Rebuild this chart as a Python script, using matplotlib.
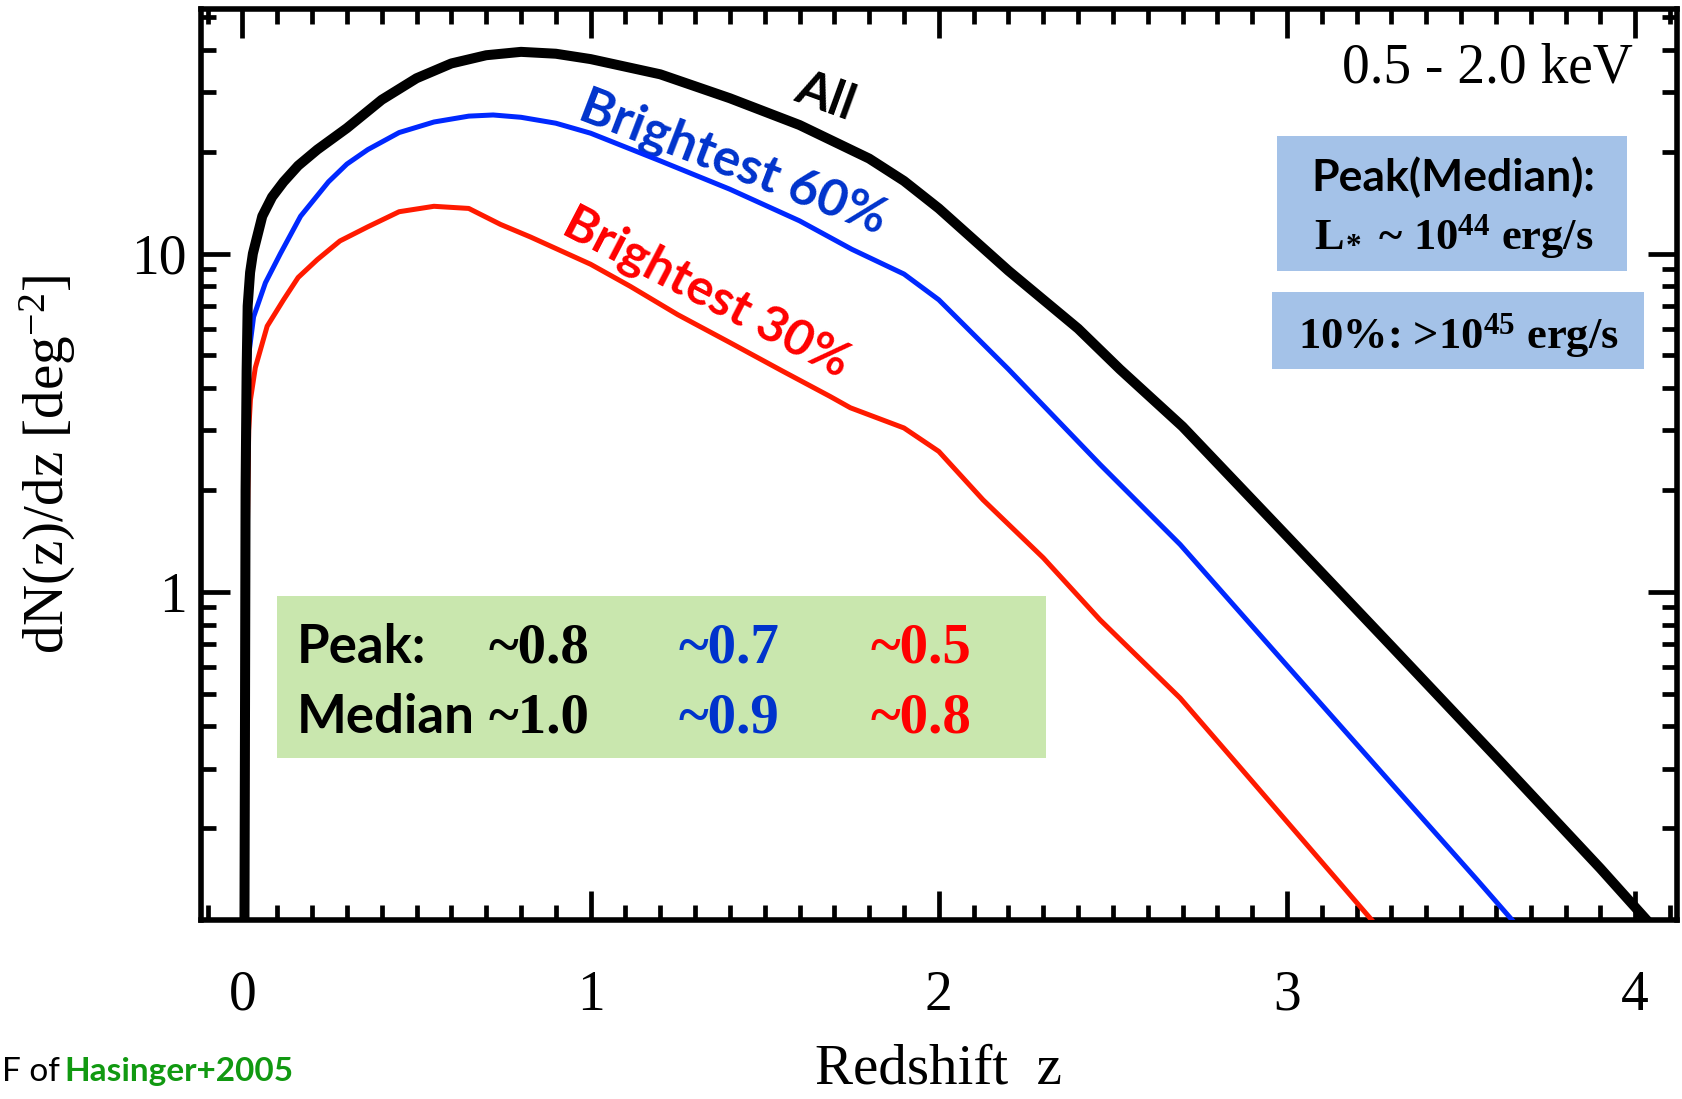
import numpy as np
import matplotlib
matplotlib.use("Agg")
import matplotlib.pyplot as plt
from matplotlib.patches import Rectangle
from matplotlib.ticker import FixedLocator, MultipleLocator, LogLocator, NullFormatter, FuncFormatter

plt.rcParams["font.family"] = ["Liberation Serif", "DejaVu Serif"]
plt.rcParams["mathtext.default"] = "regular"

# dN/dz curves (redshift, deg^-2)
z_all = [0.005, 0.009, 0.012, 0.015, 0.022, 0.03, 0.057, 0.085, 0.118, 0.16, 0.215, 0.3, 0.4, 0.5,
         0.6, 0.7, 0.8, 0.9, 1.0, 1.2, 1.4, 1.6, 1.8, 1.9, 2.0, 2.2, 2.4, 2.52, 2.7,
         3.0, 3.3, 3.6, 3.9, 4.04]
n_all = [0.05, 2.0, 4.5, 7.0, 8.8, 10.0, 12.9, 14.7, 16.3, 18.2, 20.3, 23.5, 28.5, 33.0,
         36.5, 38.6, 39.5, 39.0, 37.6, 33.9, 28.8, 24.0, 19.1, 16.4, 13.6, 8.9, 6.0, 4.55, 3.08,
         1.46, 0.69, 0.325, 0.152, 0.105]

z_60 = [0.004, 0.008, 0.011, 0.014, 0.02, 0.032, 0.066, 0.109, 0.167, 0.247, 0.3, 0.36, 0.45,
        0.55, 0.65, 0.72, 0.8, 0.9, 1.0, 1.2, 1.4, 1.6, 1.75, 1.9, 2.0, 2.2, 2.463, 2.693,
        3.0, 3.3, 3.546, 3.65]
n_60 = [0.05, 2.0, 3.2, 4.15, 5.2, 6.5, 8.2, 10.0, 12.9, 16.3, 18.4, 20.3, 22.8,
        24.5, 25.5, 25.7, 25.3, 24.3, 22.7, 18.8, 15.5, 12.5, 10.3, 8.7, 7.3, 4.55, 2.38, 1.38,
        0.605, 0.271, 0.1406, 0.106]

z_30 = [0.01, 0.014, 0.018, 0.023, 0.037, 0.071, 0.118, 0.16, 0.215, 0.28, 0.36, 0.45, 0.55, 0.65,
        0.741, 0.827, 1.0, 1.114, 1.25, 1.401, 1.55, 1.688, 1.746, 1.9, 2.0, 2.127, 2.3,
        2.463, 2.693, 2.9, 3.144, 3.25]
n_30 = [0.05, 1.5, 3.0, 3.7, 4.6, 6.1, 7.3, 8.5, 9.6, 10.9, 12.0, 13.3, 13.8, 13.6,
        12.2, 11.2, 9.3, 8.0, 6.6, 5.45, 4.5, 3.78, 3.5, 3.05, 2.6, 1.87, 1.26,
        0.826, 0.485, 0.275, 0.1406, 0.105]

peak_vals = ["~0.8", "~0.7", "~0.5"]
median_vals = ["~1.0", "~0.9", "~0.8"]
val_colors = ["black", "#0033cc", "#ff0000"]

fig = plt.figure(figsize=(16.82, 10.99), dpi=100)
ax = fig.add_axes([0.1193, 0.1629, 0.8777, 0.8292])

ax.plot(z_all, n_all, color="black", lw=7.2, solid_joinstyle="round", zorder=5)
ax.plot(z_60, n_60, color="#0028ff", lw=3.6, solid_joinstyle="round", zorder=4)
ax.plot(z_30, n_30, color="#ff1a00", lw=3.6, solid_joinstyle="round", zorder=3)

ax.set_yscale("log")
ax.set_xlim(-0.12, 4.12)
ax.set_ylim(0.107, 53)

ax.xaxis.set_major_locator(FixedLocator([0, 1, 2, 3, 4]))
ax.xaxis.set_minor_locator(MultipleLocator(0.1))
ax.yaxis.set_major_locator(LogLocator(base=10, numticks=10))
ax.yaxis.set_minor_locator(LogLocator(base=10, subs=np.arange(2, 10), numticks=20))
ax.yaxis.set_major_formatter(FuncFormatter(lambda v, p: f"{v:g}"))
ax.yaxis.set_minor_formatter(NullFormatter())

for s in ax.spines.values():
    s.set_linewidth(4)
ax.tick_params(which="both", direction="in", top=True, right=True, width=3.4)
ax.tick_params(which="major", length=21)
ax.tick_params(which="minor", length=10.5)
ax.tick_params(axis="x", which="major", labelsize=40, pad=36)
ax.tick_params(axis="y", which="major", labelsize=40, pad=10)

ax.set_xlabel("Redshift  z", fontsize=41)
ax.xaxis.set_label_coords(0.5, -0.136)
ax.set_ylabel("dN(z)/dz [deg$^{-2}$]", fontsize=41)
ax.yaxis.set_label_coords(-0.083, 0.5)

ax.text(0.970, 0.919, "0.5 - 2.0 keV", transform=ax.transAxes, fontsize=40,
        ha="right", va="baseline")

# curve labels
sans = ["Lato", "DejaVu Sans"]
ax.text(0.4229, 0.904, "All", transform=ax.transAxes, fontsize=36, family=sans,
        fontweight="bold", color="black", rotation=-20, rotation_mode="anchor",
        ha="center", va="center")
ax.text(0.3604, 0.8306, "Brightest 60%", transform=ax.transAxes, fontsize=37, family=sans,
        fontweight="bold", color="#0033cc", rotation=-21, rotation_mode="anchor",
        ha="center", va="center")
ax.text(0.3425, 0.688, "Brightest 30%", transform=ax.transAxes, fontsize=36, family=sans,
        fontweight="bold", color="#ff0000", rotation=-27.5, rotation_mode="anchor",
        ha="center", va="center")

# luminosity boxes
ax.add_patch(Rectangle((0.729, 0.712), 0.237, 0.148, transform=ax.transAxes,
                       facecolor="#a4c2e8", edgecolor="none", zorder=6))
ax.add_patch(Rectangle((0.7257, 0.6046), 0.252, 0.0844, transform=ax.transAxes,
                       facecolor="#a4c2e8", edgecolor="none", zorder=6))
ax.text(0.8486, 0.800, "Peak(Median):", transform=ax.transAxes, fontsize=32, family=sans,
        fontweight="bold", ha="center", va="baseline", zorder=7)
ax.text(0.8486, 0.736, r"L$_{\!*}$ ~ 10$^{44}$ erg/s", transform=ax.transAxes, fontsize=32,
        fontweight="bold", ha="center", va="baseline", zorder=7)
ax.text(0.852, 0.627, "10%: >10$^{45}$ erg/s", transform=ax.transAxes, fontsize=32,
        fontweight="bold", ha="center", va="baseline", zorder=7)

# peak / median box
ax.add_patch(Rectangle((0.0516, 0.1773), 0.521, 0.1777, transform=ax.transAxes,
                       facecolor="#c9e7ae", edgecolor="none", zorder=6))
ax.text(0.0654, 0.282, "Peak:", transform=ax.transAxes, fontsize=38, family=sans,
        fontweight="bold", ha="left", va="baseline", zorder=7)
ax.text(0.0654, 0.2056, "Median", transform=ax.transAxes, fontsize=38, family=sans,
        fontweight="bold", ha="left", va="baseline", zorder=7)
for xpos, pv, mv, c in zip([0.1948, 0.324, 0.454], peak_vals, median_vals, val_colors):
    ax.text(xpos, 0.282, pv, transform=ax.transAxes, fontsize=41, fontweight="bold",
            color=c, ha="left", va="baseline", zorder=7)
    ax.text(xpos, 0.2056, mv, transform=ax.transAxes, fontsize=41, fontweight="bold",
            color=c, ha="left", va="baseline", zorder=7)

fig.text(0.001, 0.0164, "F of", fontsize=24, family=sans, ha="left", va="baseline")
fig.text(0.0385, 0.0164, "Hasinger+2005", fontsize=24, family=sans, fontweight="bold",
         color="#119911", ha="left", va="baseline")

fig.savefig("out.png", dpi=100)
